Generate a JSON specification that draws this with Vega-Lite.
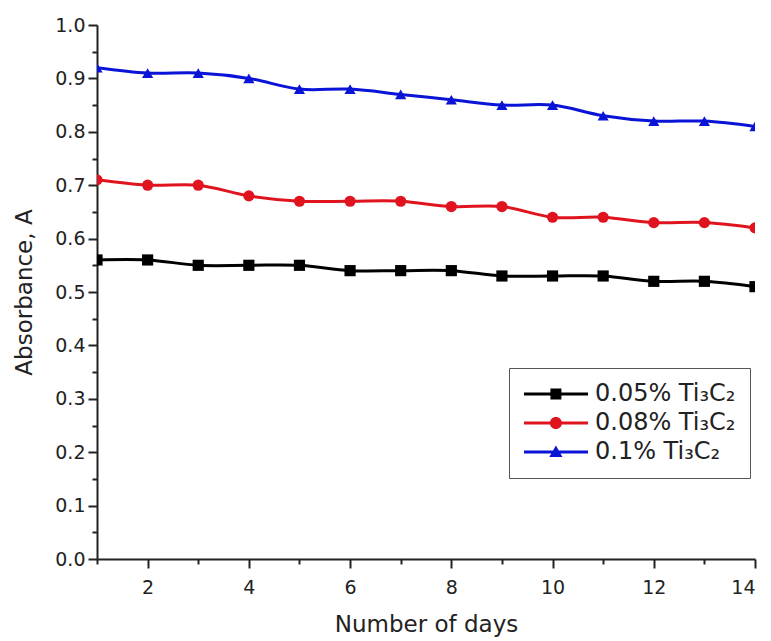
{
  "$schema": "https://vega.github.io/schema/vega-lite/v6.json",
  "autosize": {"type": "none"},
  "width": 658,
  "height": 534,
  "padding": {"left": 97, "top": 25, "right": 16, "bottom": 82},
  "background": "white",
  "config": {
    "view": {"stroke": null},
    "font": "DejaVu Sans"
  },
  "data": {"values": [
    {"day": 1, "series": "0.05% Ti₃C₂", "A": 0.56},
    {"day": 2, "series": "0.05% Ti₃C₂", "A": 0.56},
    {"day": 3, "series": "0.05% Ti₃C₂", "A": 0.55},
    {"day": 4, "series": "0.05% Ti₃C₂", "A": 0.55},
    {"day": 5, "series": "0.05% Ti₃C₂", "A": 0.55},
    {"day": 6, "series": "0.05% Ti₃C₂", "A": 0.54},
    {"day": 7, "series": "0.05% Ti₃C₂", "A": 0.54},
    {"day": 8, "series": "0.05% Ti₃C₂", "A": 0.54},
    {"day": 9, "series": "0.05% Ti₃C₂", "A": 0.53},
    {"day": 10, "series": "0.05% Ti₃C₂", "A": 0.53},
    {"day": 11, "series": "0.05% Ti₃C₂", "A": 0.53},
    {"day": 12, "series": "0.05% Ti₃C₂", "A": 0.52},
    {"day": 13, "series": "0.05% Ti₃C₂", "A": 0.52},
    {"day": 14, "series": "0.05% Ti₃C₂", "A": 0.51},
    {"day": 1, "series": "0.08% Ti₃C₂", "A": 0.71},
    {"day": 2, "series": "0.08% Ti₃C₂", "A": 0.70},
    {"day": 3, "series": "0.08% Ti₃C₂", "A": 0.70},
    {"day": 4, "series": "0.08% Ti₃C₂", "A": 0.68},
    {"day": 5, "series": "0.08% Ti₃C₂", "A": 0.67},
    {"day": 6, "series": "0.08% Ti₃C₂", "A": 0.67},
    {"day": 7, "series": "0.08% Ti₃C₂", "A": 0.67},
    {"day": 8, "series": "0.08% Ti₃C₂", "A": 0.66},
    {"day": 9, "series": "0.08% Ti₃C₂", "A": 0.66},
    {"day": 10, "series": "0.08% Ti₃C₂", "A": 0.64},
    {"day": 11, "series": "0.08% Ti₃C₂", "A": 0.64},
    {"day": 12, "series": "0.08% Ti₃C₂", "A": 0.63},
    {"day": 13, "series": "0.08% Ti₃C₂", "A": 0.63},
    {"day": 14, "series": "0.08% Ti₃C₂", "A": 0.62},
    {"day": 1, "series": "0.1% Ti₃C₂", "A": 0.92},
    {"day": 2, "series": "0.1% Ti₃C₂", "A": 0.91},
    {"day": 3, "series": "0.1% Ti₃C₂", "A": 0.91},
    {"day": 4, "series": "0.1% Ti₃C₂", "A": 0.90},
    {"day": 5, "series": "0.1% Ti₃C₂", "A": 0.88},
    {"day": 6, "series": "0.1% Ti₃C₂", "A": 0.88},
    {"day": 7, "series": "0.1% Ti₃C₂", "A": 0.87},
    {"day": 8, "series": "0.1% Ti₃C₂", "A": 0.86},
    {"day": 9, "series": "0.1% Ti₃C₂", "A": 0.85},
    {"day": 10, "series": "0.1% Ti₃C₂", "A": 0.85},
    {"day": 11, "series": "0.1% Ti₃C₂", "A": 0.83},
    {"day": 12, "series": "0.1% Ti₃C₂", "A": 0.82},
    {"day": 13, "series": "0.1% Ti₃C₂", "A": 0.82},
    {"day": 14, "series": "0.1% Ti₃C₂", "A": 0.81}
  ]},
  "layer": [
    {
      "mark": {"type": "line", "interpolate": "catmull-rom", "strokeWidth": 3, "clip": true},
      "encoding": {
        "x": {"field": "day", "type": "quantitative", "scale": {"domain": [1, 14], "nice": false, "zero": false},
          "axis": {"orient": "bottom", "grid": false, "values": [2, 4, 6, 8, 10, 12, 14], "tickSize": 9, "tickWidth": 2, "tickColor": "#222", "domainColor": "#222", "domainWidth": 2, "labelFontSize": 19, "labelColor": "#222", "labelFont": "DejaVu Sans", "labelPadding": 10, "title": "Number of days", "titleFont": "DejaVu Sans", "titleFontSize": 23, "titleFontWeight": "normal", "titleColor": "#222", "titlePadding": 16}},
        "y": {"field": "A", "type": "quantitative", "scale": {"domain": [0, 1], "nice": false},
          "axis": {"orient": "left", "grid": false, "values": [0, 0.1, 0.2, 0.3, 0.4, 0.5, 0.6, 0.7, 0.8, 0.9, 1.0], "format": ".1f", "tickSize": 9, "tickWidth": 2, "tickColor": "#222", "domainColor": "#222", "domainWidth": 2, "labelFontSize": 19, "labelColor": "#222", "labelFont": "DejaVu Sans", "labelPadding": 3, "title": "Absorbance, A", "titleFont": "DejaVu Sans", "titleFontSize": 23, "titleFontWeight": "normal", "titleColor": "#222", "titlePadding": 18}},
        "color": {"field": "series", "type": "nominal",
          "scale": {"domain": ["0.05% Ti₃C₂", "0.08% Ti₃C₂", "0.1% Ti₃C₂"], "range": ["#000000", "#e0141e", "#0a14d6"]},
          "legend": {"orient": "none", "legendX": 412, "legendY": 343, "title": null, "labelFontSize": 24, "labelFont": "DejaVu Sans", "labelColor": "#222", "symbolSize": 484, "symbolStrokeWidth": 0, "symbolOpacity": 1, "rowPadding": 5, "padding": 14, "strokeColor": "#555", "fillColor": "white", "labelOffset": 48,
            "encode": {"symbols": {"update": {"fill": {"field": "value", "scale": "color"}, "fillOpacity": {"value": 1}, "strokeWidth": {"value": 0}, "shape": {"signal": "datum.value === '0.05% Ti₃C₂' ? 'M-1,-0.14H4.82V0.14H-1Z M1.4,-0.5H2.4V0.5H1.4Z' : datum.value === '0.08% Ti₃C₂' ? 'M-1,-0.14H4.82V0.14H-1Z M1.35,0A0.55,0.55 0 1,1 2.45,0A0.55,0.55 0 1,1 1.35,0Z' : 'M-1,-0.14H4.82V0.14H-1Z M1.3,0.45L1.9,-0.6L2.5,0.45Z'"}}}}}}
      }
    },
    {
      "mark": {"type": "point", "filled": true, "opacity": 1, "size": 125, "clip": true},
      "encoding": {
        "x": {"field": "day", "type": "quantitative",
          "axis": {"orient": "bottom", "grid": false, "values": [1, 3, 5, 7, 9, 11, 13], "tickSize": 5, "tickWidth": 2, "tickColor": "#222", "labels": false, "domain": false, "title": null}},
        "y": {"field": "A", "type": "quantitative",
          "axis": {"orient": "left", "grid": false, "values": [0.05, 0.15, 0.25, 0.35, 0.45, 0.55, 0.65, 0.75, 0.85, 0.95], "tickSize": 5, "tickWidth": 2, "tickColor": "#222", "labels": false, "domain": false, "title": null}},
        "color": {"field": "series", "type": "nominal", "legend": null},
        "shape": {"field": "series", "type": "nominal", "legend": null,
          "scale": {"domain": ["0.05% Ti₃C₂", "0.08% Ti₃C₂", "0.1% Ti₃C₂"], "range": ["square", "circle", "triangle-up"]}}
      }
    }
  ],
  "resolve": {"axis": {"x": "independent", "y": "independent"}, "legend": {"shape": "independent"}}
}
